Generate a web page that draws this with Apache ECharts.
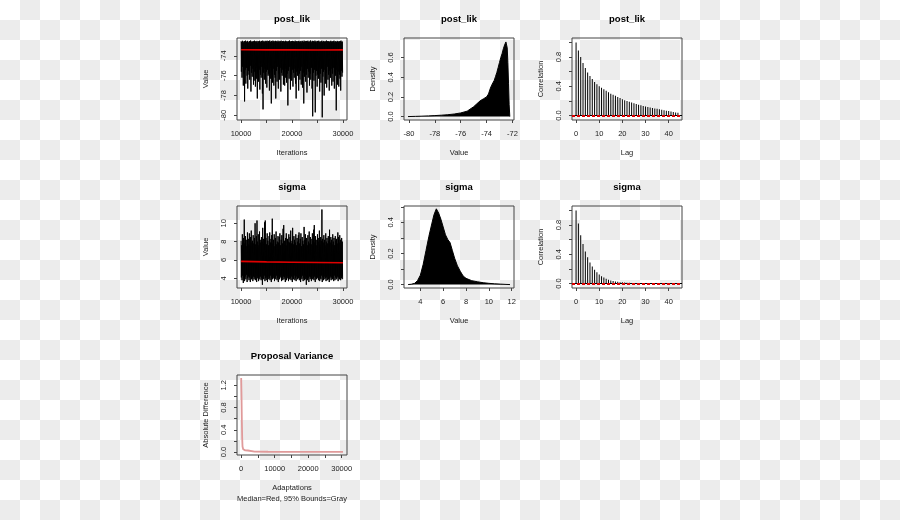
<!DOCTYPE html>
<html><head><meta charset="utf-8">
<script src="https://cdn.jsdelivr.net/npm/echarts@6/dist/echarts.min.js"></script>
<style>
html,body{margin:0;padding:0;}
body{width:900px;height:520px;background:repeating-conic-gradient(#ececec 0% 25%, #ffffff 0% 50%) 0 0/40px 40px;}
#c{width:900px;height:520px;}
</style></head><body><div id="c"></div>
<script>
// ---------------- data ----------------
const traceIterStart = 10000, traceIterEnd = 30000;
const traceXTicks = [10000, 15000, 20000, 25000, 30000];
const traceXLabels = [10000, 20000, 30000];

// post_lik trace: per-block upper and lower extremes
const postLikHigh = [
-72.52,-72.61,-72.48,-72.57,-72.66,-72.50,-72.59,-72.47,-72.63,-72.55,
-72.49,-72.58,-72.68,-72.51,-72.56,-72.46,-72.62,-72.54,-72.60,-72.50,
-72.57,-72.47,-72.64,-72.53,-72.59,-72.49,-72.67,-72.52,-72.58,-72.48,
-72.61,-72.55,-72.50,-72.65,-72.47,-72.57,-72.53,-72.62,-72.49,-72.59,
-72.54,-72.48,-72.66,-72.51,-72.58,-72.46,-72.60,-72.55,-72.50,-72.63,
-72.47,-72.56,-72.52,-72.64,-72.49,-72.58,-72.53,-72.61,-72.48,-72.57,
-72.62,-72.50,-72.55,-72.47,-72.66,-72.52,-72.59,-72.49,-72.56,-72.61,
-72.48,-72.57,-72.53,-72.63,-72.50,-72.58,-72.46,-72.60,-72.54,-72.51,
-72.65,-72.49,-72.56,-72.52,-72.61,-72.47,-72.58,-72.55,-72.50,-72.64,
-72.53,-72.48,-72.60,-72.57,-72.51,-72.66,-72.49,-72.55,-72.62,-72.47,
-72.58,-72.52,-72.63,-72.50,-72.56,-72.48,-72.61,-72.54,-72.59,-72.46,
-72.55,-72.64,-72.49,-72.57,-72.52,-72.60,-72.47,-72.58,-72.53,-72.65,
-72.50,-72.56,-72.48,-72.62,-72.54,-72.59,-72.51,-72.47,-72.63,-72.55,
-72.49,-72.60,-72.53,-72.57,-72.46,-72.64,-72.52,-72.58,-72.50,-72.61,
-72.56,-72.48,-72.62,-72.51,-72.59,-72.54,-72.47,-72.65,-72.53,-72.57,
-72.60,-72.49,-72.55,-72.63,-72.50,-72.58,-72.52,-72.47,-72.61,-72.56
];
const postLikLow = [
-75.6,-76.2,-75.1,-77.0,-75.8,-78.6,-75.4,-76.8,-75.2,-76.0,
-77.3,-75.5,-75.9,-76.4,-75.0,-77.6,-75.7,-76.1,-75.3,-76.9,
-76.5,-75.6,-77.1,-75.2,-76.3,-78.3,-75.8,-76.6,-75.4,-77.4,
-75.9,-76.2,-75.1,-77.8,-79.4,-75.7,-76.4,-75.3,-76.8,-75.6,
-77.2,-75.4,-76.0,-75.8,-77.5,-75.2,-76.3,-78.8,-75.6,-76.7,
-75.3,-77.0,-75.9,-76.2,-78.3,-75.5,-76.6,-75.1,-77.3,-75.8,
-76.4,-75.2,-77.6,-75.7,-76.0,-75.4,-76.9,-75.6,-77.0,-76.2,
-75.3,-76.7,-75.8,-79.0,-75.5,-76.3,-75.1,-77.4,-75.9,-76.5,
-75.4,-77.1,-75.7,-76.2,-75.3,-76.8,-78.3,-75.6,-76.0,-75.2,
-77.5,-75.8,-76.4,-75.5,-76.9,-75.1,-77.2,-75.7,-78.8,-76.1,
-75.4,-76.6,-75.9,-77.7,-75.3,-76.2,-75.6,-77.0,-75.8,-76.4,
-75.2,-77.3,-80.1,-75.7,-76.5,-75.4,-79.7,-76.0,-75.5,-77.1,
-75.9,-76.3,-75.2,-77.6,-75.8,-76.7,-75.3,-80.2,-76.1,-75.6,
-78.0,-75.4,-76.8,-75.7,-77.2,-75.1,-76.4,-75.9,-77.5,-75.5,
-76.2,-75.3,-77.0,-75.8,-76.6,-75.2,-77.3,-75.7,-76.0,-79.5,
-75.4,-76.9,-75.6,-77.1,-75.9,-76.3,-77.5,-75.5,-76.1,-75.7
];
const postLikMedIter = [10000, 15000, 20000, 25000, 30000];
const postLikMed = [-73.38, -73.40, -73.40, -73.41, -73.40];
const postLikTraceYTicks = [-80, -78, -76, -74];

// sigma trace
const sigmaHigh = [
8.1,7.6,8.8,7.9,8.4,10.4,7.8,8.6,7.5,8.2,
9.0,7.7,8.3,8.9,7.6,8.5,9.2,7.9,8.1,8.7,
7.8,8.4,10.0,7.7,8.6,10.3,8.0,8.8,7.6,9.1,
8.2,7.9,8.5,8.0,9.5,8.3,7.8,10.1,10.3,8.4,
7.7,8.9,8.1,7.6,8.6,9.0,7.9,8.3,8.7,10.5,
7.8,8.2,8.8,7.5,8.4,9.1,7.7,8.0,8.6,7.9,
8.5,8.9,7.6,8.2,8.7,7.8,9.4,9.8,8.1,7.7,
8.4,8.9,7.6,8.3,8.0,8.8,7.9,8.5,9.2,7.8,
8.1,9.5,7.7,8.6,8.2,7.9,8.8,7.6,8.4,8.0,
8.7,9.0,7.8,8.3,8.9,7.5,8.5,8.1,7.7,9.6,
8.2,8.8,7.9,8.4,7.6,8.7,8.0,9.1,7.8,8.5,
8.3,7.7,8.9,8.1,9.3,9.8,7.9,8.6,8.2,7.6,
8.8,8.0,8.4,9.2,7.7,8.5,8.1,11.5,8.3,7.9,
8.7,8.2,7.6,8.9,8.0,8.4,7.8,8.6,8.1,9.3,
7.9,8.5,8.2,7.7,8.8,8.0,8.4,7.6,8.6,8.1,
8.3,7.8,9.0,8.5,7.9,8.7,8.2,7.7,8.4,8.0
];
const sigmaLow = [
4.1,3.8,4.3,3.5,4.0,3.7,4.2,3.9,4.4,3.6,
4.0,4.2,3.8,4.1,3.6,4.3,3.9,4.0,3.7,4.2,
3.9,4.1,3.8,4.3,3.6,4.0,4.2,3.7,4.1,3.9,
4.2,3.8,4.0,3.3,4.1,3.9,4.3,3.7,4.0,3.8,
4.1,3.6,4.2,3.9,4.0,3.8,4.3,3.6,4.1,3.9,
4.0,4.2,3.7,4.1,3.9,4.3,3.8,4.0,3.6,4.2,
3.9,4.1,4.3,3.7,4.0,3.8,4.2,3.9,4.1,3.6,
4.3,3.8,4.0,4.2,3.7,4.1,3.9,4.0,3.8,4.2,
3.6,4.1,3.9,4.3,3.8,4.0,3.7,4.2,3.9,4.1,
4.0,3.8,4.2,3.6,4.1,3.9,4.3,3.7,4.0,3.8,
4.2,3.9,3.3,4.1,3.8,4.0,3.6,4.2,3.9,4.1,
3.7,4.3,3.9,4.0,3.8,4.2,3.6,4.1,3.9,4.0,
4.1,3.8,4.2,3.7,4.0,3.9,4.3,3.6,4.1,3.8,
3.9,4.2,4.0,3.7,4.1,3.8,4.3,3.9,3.6,4.0,
4.2,3.8,4.1,3.9,4.0,3.7,4.3,3.8,4.1,3.9,
4.0,4.2,3.7,4.1,3.9,4.3,3.8,4.0,4.2,3.9
];
const sigmaMedIter = [10000, 15000, 20000, 25000, 30000];
const sigmaMed = [5.85, 5.80, 5.76, 5.73, 5.70];
const sigmaTraceYTicks = [4, 6, 8, 10];

// post_lik density
const postLikDensX = [-80.08,-79.5,-79.0,-78.5,-78.0,-77.5,-77.0,-76.5,-76.0,-75.5,-75.0,-74.75,-74.5,-74.25,-74.0,-73.85,-73.7,-73.6,-73.5,-73.4,-73.3,-73.2,-73.1,-73.0,-72.9,-72.8,-72.7,-72.6,-72.5,-72.45,-72.4,-72.35,-72.3,-72.25,-72.2];
const postLikDensY = [0.0,0.002,0.004,0.007,0.010,0.014,0.019,0.026,0.037,0.055,0.10,0.13,0.16,0.18,0.20,0.23,0.29,0.32,0.34,0.37,0.41,0.45,0.50,0.55,0.60,0.64,0.69,0.73,0.76,0.77,0.70,0.55,0.34,0.12,0.0];
const postLikDensXTicks = [-80, -78, -76, -74, -72];
const postLikDensYTicks = [0, 0.2, 0.4, 0.6];

// sigma density
const sigmaDensX = [2.93,3.2,3.5,3.75,4.0,4.25,4.5,4.75,5.0,5.2,5.4,5.5,5.6,5.8,6.0,6.2,6.4,6.6,6.8,7.0,7.25,7.5,7.75,8.0,8.5,9.0,9.5,10.0,10.5,11.0,11.5,11.85];
const sigmaDensY = [0.0,0.002,0.008,0.025,0.06,0.13,0.22,0.31,0.39,0.45,0.487,0.48,0.46,0.42,0.37,0.32,0.29,0.27,0.22,0.17,0.12,0.085,0.055,0.04,0.025,0.018,0.012,0.008,0.005,0.003,0.001,0.0];
const sigmaDensXTicks = [4, 6, 8, 10, 12];
const sigmaDensYTicks = [0, 0.1, 0.2, 0.3, 0.4, 0.5];
const sigmaDensYLabels = [0, 0.2, 0.4];

// autocorrelations
const acfLags = [0,1,2,3,4,5,6,7,8,9,10,11,12,13,14,15,16,17,18,19,20,21,22,23,24,25,26,27,28,29,30,31,32,33,34,35,36,37,38,39,40,41,42,43,44];
const postLikAcf = [1.0,0.89,0.80,0.72,0.65,0.59,0.54,0.50,0.46,0.43,0.40,0.38,0.36,0.34,0.32,0.30,0.285,0.27,0.255,0.24,0.225,0.21,0.20,0.19,0.18,0.17,0.16,0.15,0.14,0.13,0.125,0.118,0.11,0.104,0.098,0.092,0.086,0.08,0.074,0.068,0.062,0.056,0.05,0.044,0.038];
const sigmaAcf = [1.0,0.82,0.66,0.54,0.44,0.36,0.29,0.235,0.19,0.155,0.125,0.10,0.082,0.066,0.054,0.044,0.036,0.03,0.025,0.02,0.017,0.014,0.012,0.011,0.01,0.009,0.008,0.008,0.007,0.006,0.006,0.005,0.005,0.004,0.004,0.003,0.004,0.003,0.002,0.003,0.002,0.002,0.001,0.002,0.001];
const acfBand = [0.014, -0.014];
const acfXTicks = [0, 10, 20, 30, 40];
const acfYTicks = [0, 0.2, 0.4, 0.6, 0.8, 1.0];
const acfYLabels = [0, 0.4, 0.8];

// proposal variance
const propX = [0, 100, 200, 300, 400, 600, 800, 1200, 2000, 2500, 4000, 8000, 15000, 22000, 30400];
const propY = [1.33, 1.0, 0.55, 0.25, 0.1, 0.05, 0.035, 0.03, 0.028, 0.012, 0.008, 0.005, 0.004, 0.003, 0.003];
const propXTicks = [0, 5000, 10000, 15000, 20000, 25000, 30000];
const propXLabels = [0, 10000, 20000, 30000];
const propYTicks = [0, 0.2, 0.4, 0.6, 0.8, 1.0, 1.2];
const propYLabels = [0, 0.4, 0.8, 1.2];

const panelTitles = ['post_lik','post_lik','post_lik','sigma','sigma','sigma','Proposal Variance'];

// ---------------- chart ----------------
const FONT = '"Liberation Sans", Arial, sans-serif';
const LBL = '#222';

function traceData(high, low) {
  const n = high.length, step = (traceIterEnd - traceIterStart) / n;
  const out = [];
  for (let i = 0; i < n; i++) {
    out.push([traceIterStart + i * step, high[i]]);
    out.push([traceIterStart + (i + 0.5) * step, low[i]]);
  }
  return out;
}
const zip = (a, b) => a.map((v, i) => [v, b[i]]);

const gridBoxes = [
  {left: 237, top: 38, width: 110, height: 82},
  {left: 404, top: 38, width: 110, height: 82},
  {left: 572, top: 38, width: 110, height: 82},
  {left: 237, top: 206, width: 110, height: 82},
  {left: 404, top: 206, width: 110, height: 82},
  {left: 572, top: 206, width: 110, height: 82},
  {left: 237, top: 375, width: 110, height: 80}
];
const grids = gridBoxes.map(g => Object.assign({show: true, borderColor: '#444', borderWidth: 1, backgroundColor: 'transparent'}, g));

const intFmt = v => String(Math.round(v));
const f1 = v => (Math.abs(v) < 1e-9 ? 0 : v).toFixed(1);

function axis(dim, gi, min, max, ticks, labels, fmt, name) {
  const isX = dim === 'x';
  return {
    type: 'value', gridIndex: gi, min: min, max: max,
    position: isX ? 'bottom' : 'left',
    name: name, nameLocation: 'middle', nameGap: isX ? 29 : 27, nameRotate: isX ? 0 : 90,
    nameTextStyle: {fontFamily: FONT, fontSize: 7.5, color: LBL},
    axisLine: {show: false, onZero: false},
    axisTick: {show: true, inside: false, length: 3, customValues: ticks, lineStyle: {color: '#444', width: 1}},
    axisLabel: {show: true, customValues: labels, formatter: fmt, fontFamily: FONT, fontSize: 7.5, color: LBL,
                margin: isX ? 10 : 9, rotate: isX ? 0 : 90, hideOverlap: false},
    splitLine: {show: false}
  };
}

const xAxes = [
  axis('x', 0, 9200, 30800, traceXTicks, traceXLabels, intFmt, 'Iterations'),
  axis('x', 1, -80.39, -71.875, postLikDensXTicks, postLikDensXTicks, intFmt, 'Value'),
  axis('x', 2, -1.76, 45.76, acfXTicks, acfXTicks, intFmt, 'Lag'),
  axis('x', 3, 9200, 30800, traceXTicks, traceXLabels, intFmt, 'Iterations'),
  axis('x', 4, 2.57, 12.2, sigmaDensXTicks, sigmaDensXTicks, intFmt, 'Value'),
  axis('x', 5, -1.76, 45.76, acfXTicks, acfXTicks, intFmt, 'Lag'),
  axis('x', 6, -1250, 31600, propXTicks, propXLabels, intFmt, 'Adaptations')
];
const yAxes = [
  axis('y', 0, -80.47, -72.2, postLikTraceYTicks, postLikTraceYTicks, intFmt, 'Value'),
  axis('y', 1, -0.035, 0.80, postLikDensYTicks, postLikDensYTicks, f1, 'Density'),
  axis('y', 2, -0.06, 1.06, acfYTicks, acfYLabels, f1, 'Correlation'),
  axis('y', 3, 2.95, 11.88, sigmaTraceYTicks, sigmaTraceYTicks, intFmt, 'Value'),
  axis('y', 4, -0.022, 0.505, sigmaDensYTicks, sigmaDensYLabels, f1, 'Density'),
  axis('y', 5, -0.06, 1.06, acfYTicks, acfYLabels, f1, 'Correlation'),
  axis('y', 6, -0.053, 1.383, propYTicks, propYLabels, f1, 'Absolute Difference')
];

function lineS(idx, data, color, width, area) {
  const s = {type: 'line', xAxisIndex: idx, yAxisIndex: idx, data: data, showSymbol: false, symbol: 'none',
    lineStyle: {color: color, width: width}, silent: true, animation: false, z: 2};
  if (area) s.areaStyle = {color: color, opacity: 1};
  return s;
}
function acfS(idx, vals) {
  return {type: 'bar', xAxisIndex: idx, yAxisIndex: idx, data: zip(acfLags, vals), barWidth: 1,
    itemStyle: {color: '#000'}, silent: true, animation: false,
    markLine: {silent: true, symbol: ['none', 'none'], label: {show: false}, animation: false,
      data: [
        {yAxis: 0, lineStyle: {color: '#000', width: 1, type: 'solid'}},
        {yAxis: acfBand[0], lineStyle: {color: '#e00000', width: 1, type: [3, 2]}},
        {yAxis: acfBand[1], lineStyle: {color: '#e00000', width: 1, type: [3, 2]}}
      ]}};
}

const series = [
  lineS(0, traceData(postLikHigh, postLikLow), '#000', 1),
  lineS(0, zip(postLikMedIter, postLikMed), '#e00000', 1.6),
  lineS(1, zip(postLikDensX, postLikDensY), '#000', 1, true),
  acfS(2, postLikAcf),
  lineS(3, traceData(sigmaHigh, sigmaLow), '#000', 1),
  lineS(3, zip(sigmaMedIter, sigmaMed), '#e00000', 1.6),
  lineS(4, zip(sigmaDensX, sigmaDensY), '#000', 1, true),
  acfS(5, sigmaAcf),
  lineS(6, zip(propX, propY), '#e09a9a', 1.8)
];

const graphics = gridBoxes.map((g, i) => ({
  type: 'text', x: g.left + g.width / 2, y: g.top - 18.5, silent: true,
  style: {text: panelTitles[i], fill: '#000', font: 'bold 9.5px "Liberation Sans", Arial, sans-serif',
          textAlign: 'center', textVerticalAlign: 'middle', align: 'center', verticalAlign: 'middle'}
}));
graphics.push({
  type: 'text', x: gridBoxes[6].left + gridBoxes[6].width / 2, y: 499, silent: true,
  style: {text: 'Median=Red, 95% Bounds=Gray', fill: LBL, font: '7.5px "Liberation Sans", Arial, sans-serif',
          textAlign: 'center', textVerticalAlign: 'middle', align: 'center', verticalAlign: 'middle'}
});

const chart = echarts.init(document.getElementById('c'), null, {renderer: 'canvas'});
chart.setOption({
  backgroundColor: 'transparent',
  animation: false,
  grid: grids,
  xAxis: xAxes,
  yAxis: yAxes,
  series: series,
  graphic: graphics
});
</script></body></html>
